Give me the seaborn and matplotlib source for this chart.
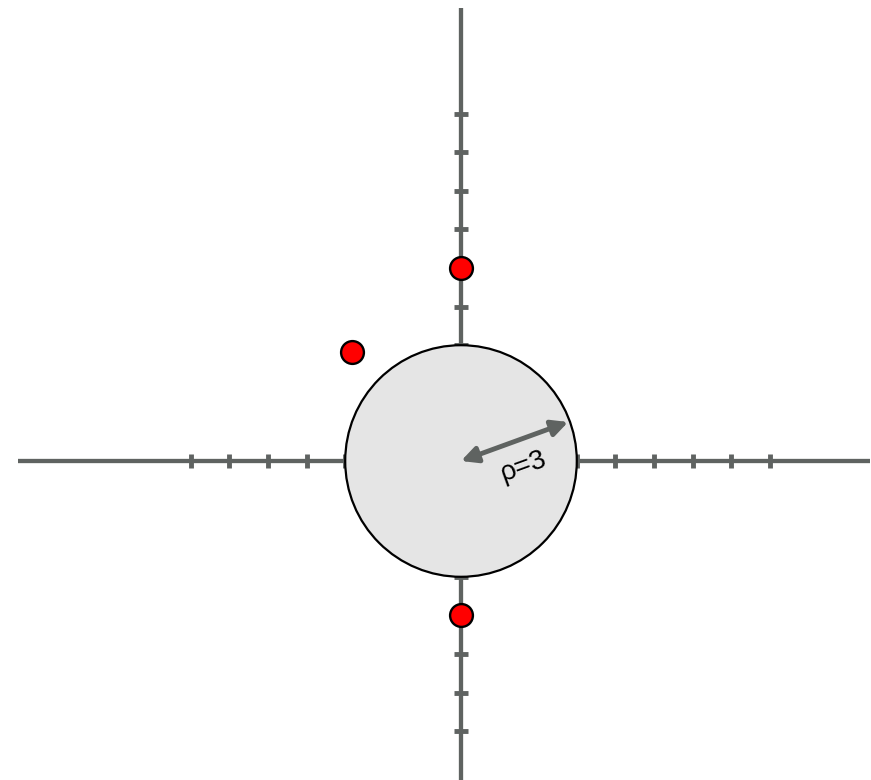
import numpy as np
import pandas as pd
import matplotlib
matplotlib.use("Agg")
import matplotlib.pyplot as plt
import seaborn as sns
from matplotlib.patches import Circle

sns.set_theme(style="white")
plt.rcParams['font.family'] = ['Liberation Sans', 'DejaVu Sans']

# Data
point_r = [5, 4, 4]
point_theta_deg = [90, 135, 270]
circle_radius = 3
label_text = "ρ=3"
x_tick_values = [-7, -6, -5, -4, -3, 3, 4, 5, 6, 7, 8]
y_tick_values = [-7, -6, -5, -4, -3, 3, 4, 5, 6, 7, 8, 9]

W, H = 871, 780
px = 38.6  # pixels per unit
cx, cy = 461, 461
fig = plt.figure(figsize=(W / 100, H / 100), dpi=100)
ax = fig.add_axes([0, 0, 1, 1])
ax.set_xlim(-cx / px, (W - cx) / px)
ax.set_ylim(-(H - cy) / px, cy / px)
ax.set_aspect('equal')
ax.axis('off')

gray = '#5f6361'
lw = 3.1
# axes lines
ax.plot([(18 - cx) / px, (870 - cx) / px], [0, 0], color=gray, lw=lw, solid_capstyle='butt', zorder=1)
ax.plot([0, 0], [-(780 - cy) / px, (cy - 8) / px], color=gray, lw=lw, solid_capstyle='butt', zorder=1)
# ticks
ax.plot(x_tick_values, [0] * len(x_tick_values), ls='none', marker='|', ms=9.5, mew=3.5, color=gray, zorder=1)
ax.plot([0] * len(y_tick_values), y_tick_values, ls='none', marker='_', ms=9.5, mew=3.5, color=gray, zorder=1)

# circle
ax.add_patch(Circle((0, 0), circle_radius, facecolor='#e5e5e5', edgecolor='black', lw=1.6, zorder=2))

# arrow
ang = np.deg2rad(20)
ax.annotate('', xy=(circle_radius * 0.985 * np.cos(ang), circle_radius * 0.985 * np.sin(ang)), xytext=(0, 0),
            arrowprops=dict(arrowstyle='<|-|>', color=gray, lw=3.5, mutation_scale=24, shrinkA=0, shrinkB=0),
            zorder=3)
ax.text(1.61, -0.15, label_text, rotation=20, fontsize=20, ha='center', va='center', color='black', zorder=3)

# points
th = np.deg2rad(point_theta_deg)
df = pd.DataFrame({'x': np.array(point_r) * np.cos(th), 'y': np.array(point_r) * np.sin(th)})
sns.scatterplot(data=df, x='x', y='y', ax=ax, s=270, color='#ff0000', edgecolor='black', linewidth=1.7, zorder=5)

fig.savefig('out.png', dpi=100)
